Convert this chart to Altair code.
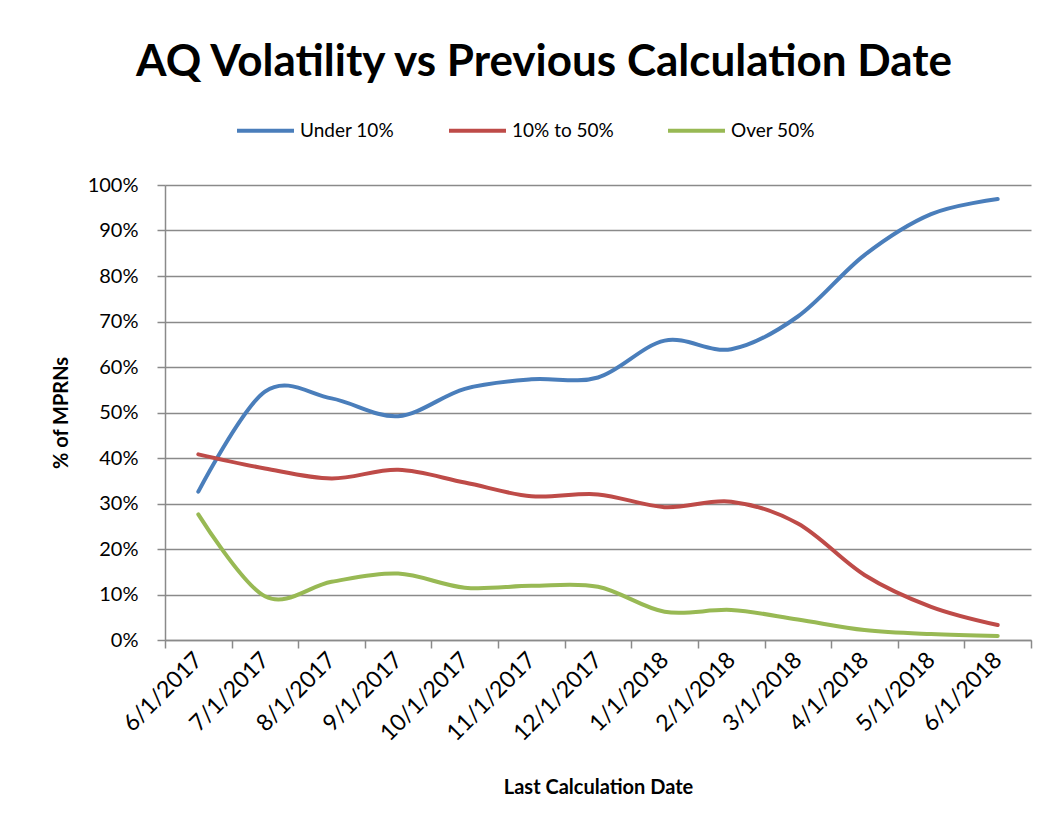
import altair as alt
import pandas as pd

dates = ["6/1/2017", "7/1/2017", "8/1/2017", "9/1/2017", "10/1/2017", "11/1/2017",
         "12/1/2017", "1/1/2018", "2/1/2018", "3/1/2018", "4/1/2018", "5/1/2018", "6/1/2018"]
series_names = ["Under 10%", "10% to 50%", "Over 50%"]
under_10 = [32.6, 54.6, 53.1, 49.2, 55.2, 57.3, 57.7, 65.8, 63.9, 71.1, 84.6, 93.6, 96.9]
between_10_50 = [40.8, 37.7, 35.5, 37.4, 34.6, 31.6, 32.0, 29.2, 30.4, 25.6, 14.3, 7.3, 3.3]
over_50 = [27.6, 9.6, 12.8, 14.6, 11.5, 11.9, 11.7, 6.2, 6.6, 4.5, 2.2, 1.3, 0.9]
colors = ["#4A7EBB", "#BE4B48", "#98B954"]
y_ticks = list(range(0, 101, 10))

rows = []
for name, vals in zip(series_names, [under_10, between_10_50, over_50]):
    for i, (d, v) in enumerate(zip(dates, vals)):
        rows.append({"idx": i, "date": d, "series": name, "value": v})
df = pd.DataFrame(rows)

n = len(dates)
x_tick_values = [k / 2 - 0.5 for k in range(2 * n + 1)]
date_array = "[" + ",".join("'" + d + "'" for d in dates) + "]"
label_expr = "datum.value % 1 === 0 ? " + date_array + "[datum.value] : ''"

FONT = "Lato"
GRID = "#8a8a8a"

chart = alt.Chart(df).mark_line(
    interpolate="cardinal", strokeWidth=4, strokeCap="round"
).encode(
    x=alt.X(
        "idx:Q",
        scale=alt.Scale(domain=[-0.5, n - 0.5], nice=False, zero=False),
        axis=alt.Axis(
            title="Last Calculation Date",
            values=x_tick_values,
            labelExpr=label_expr,
            labelAngle=-45,
            labelAlign="right",
            labelBaseline="middle",
            labelPadding=8,
            labelOverlap=False,
            labelFlush=False,
            labelBound=False,
            labelFont=FONT,
            labelFontSize=23,
            labelColor="#000000",
            grid=False,
            domainColor=GRID,
            domainWidth=1.5,
            tickColor=GRID,
            tickWidth=1.5,
            tickSize=8,
            tickOpacity={"condition": {"test": "datum.value % 1 !== 0", "value": 1}, "value": 0},
            titleFont=FONT,
            titleFontSize=20,
            titleFontWeight="bold",
            titleColor="#000000",
            titlePadding=32,
        ),
    ),
    y=alt.Y(
        "value:Q",
        scale=alt.Scale(domain=[0, 100], nice=False),
        axis=alt.Axis(
            title="% of MPRNs",
            values=y_ticks,
            labelExpr="datum.value + '%'",
            labelFont=FONT,
            labelFontSize=20,
            labelColor="#000000",
            labelPadding=19,
            grid=True,
            gridColor=GRID,
            gridWidth=1.5,
            domainColor=GRID,
            domainWidth=1.5,
            tickColor=GRID,
            tickWidth=1.5,
            tickSize=8,
            titleFont=FONT,
            titleFontSize=20,
            titleFontWeight="bold",
            titleColor="#000000",
            titlePadding=16,
        ),
    ),
    color=alt.Color(
        "series:N",
        scale=alt.Scale(domain=series_names, range=colors),
        legend=alt.Legend(
            title=None,
            orient="none",
            legendX=70,
            legendY=-85,
            direction="horizontal",
            symbolType="stroke",
            symbolSize=3249,
            symbolStrokeWidth=4,
            labelFont=FONT,
            labelFontSize=19,
            labelColor="#000000",
            labelOffset=4,
            columnPadding=46,
            padding=0,
        ),
    ),
).properties(
    width=866,
    height=455,
    title=alt.TitleParams(
        "AQ Volatility vs Previous Calculation Date",
        font=FONT,
        fontSize=44,
        fontWeight="bold",
        color="#000000",
        anchor="middle",
        dx=-54,
        offset=15,
    ),
    autosize=alt.AutoSizeParams(type="none"),
    padding={"left": 157, "top": 177, "right": 10, "bottom": 183},
).configure_view(stroke=None)

chart.save("out.html", embed_options={"renderer": "svg", "actions": False})
